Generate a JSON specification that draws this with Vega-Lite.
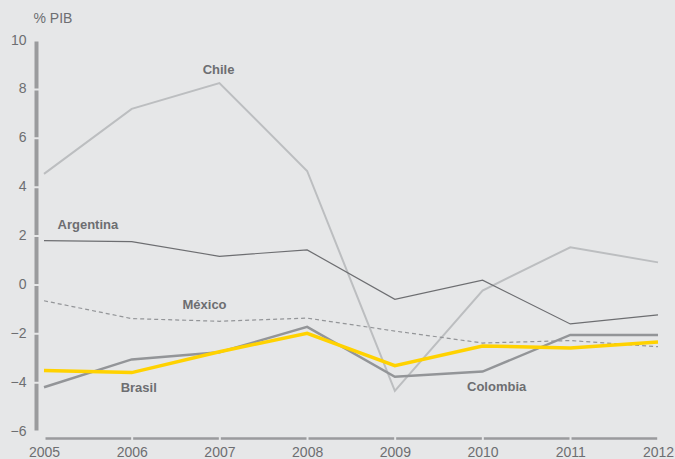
{
  "$schema": "https://vega.github.io/schema/vega-lite/v6.json",
  "width": 614,
  "height": 391,
  "autosize": {"type": "none"},
  "padding": {"left": 44, "top": 40, "right": 17, "bottom": 28},
  "background": "#e6e7e8",
  "config": {"view": {"stroke": null}, "font": "Liberation Sans"},
  "datasets": {
    "series": [
      {"pais": "Chile", "anio": 2005, "valor": 4.52},
      {"pais": "Chile", "anio": 2006, "valor": 7.18},
      {"pais": "Chile", "anio": 2007, "valor": 8.24},
      {"pais": "Chile", "anio": 2008, "valor": 4.64},
      {"pais": "Chile", "anio": 2009, "valor": -4.36},
      {"pais": "Chile", "anio": 2010, "valor": -0.25},
      {"pais": "Chile", "anio": 2011, "valor": 1.52},
      {"pais": "Chile", "anio": 2012, "valor": 0.9},
      {"pais": "Argentina", "anio": 2005, "valor": 1.79},
      {"pais": "Argentina", "anio": 2006, "valor": 1.75},
      {"pais": "Argentina", "anio": 2007, "valor": 1.15},
      {"pais": "Argentina", "anio": 2008, "valor": 1.41},
      {"pais": "Argentina", "anio": 2009, "valor": -0.61},
      {"pais": "Argentina", "anio": 2010, "valor": 0.17},
      {"pais": "Argentina", "anio": 2011, "valor": -1.62},
      {"pais": "Argentina", "anio": 2012, "valor": -1.25},
      {"pais": "México", "anio": 2005, "valor": -0.67},
      {"pais": "México", "anio": 2006, "valor": -1.4},
      {"pais": "México", "anio": 2007, "valor": -1.51},
      {"pais": "México", "anio": 2008, "valor": -1.38},
      {"pais": "México", "anio": 2009, "valor": -1.91},
      {"pais": "México", "anio": 2010, "valor": -2.4},
      {"pais": "México", "anio": 2011, "valor": -2.3},
      {"pais": "México", "anio": 2012, "valor": -2.55},
      {"pais": "Colombia", "anio": 2005, "valor": -4.21},
      {"pais": "Colombia", "anio": 2006, "valor": -3.07},
      {"pais": "Colombia", "anio": 2007, "valor": -2.78},
      {"pais": "Colombia", "anio": 2008, "valor": -1.74},
      {"pais": "Colombia", "anio": 2009, "valor": -3.78},
      {"pais": "Colombia", "anio": 2010, "valor": -3.57},
      {"pais": "Colombia", "anio": 2011, "valor": -2.07},
      {"pais": "Colombia", "anio": 2012, "valor": -2.07},
      {"pais": "Brasil", "anio": 2005, "valor": -3.52},
      {"pais": "Brasil", "anio": 2006, "valor": -3.61},
      {"pais": "Brasil", "anio": 2007, "valor": -2.76},
      {"pais": "Brasil", "anio": 2008, "valor": -2.0},
      {"pais": "Brasil", "anio": 2009, "valor": -3.33},
      {"pais": "Brasil", "anio": 2010, "valor": -2.52},
      {"pais": "Brasil", "anio": 2011, "valor": -2.6},
      {"pais": "Brasil", "anio": 2012, "valor": -2.36}
    ],
    "etiquetas": [
      {"texto": "Chile", "anio": 2006.99, "valor": 8.77},
      {"texto": "Argentina", "anio": 2005.5, "valor": 2.41},
      {"texto": "México", "anio": 2006.83, "valor": -0.84},
      {"texto": "Brasil", "anio": 2006.08, "valor": -4.22},
      {"texto": "Colombia", "anio": 2010.16, "valor": -4.18}
    ]
  },
  "encoding": {
    "x": {
      "field": "anio",
      "type": "quantitative",
      "scale": {"domain": [2005, 2012], "nice": false, "zero": false},
      "axis": {
        "title": null,
        "values": [2005, 2006, 2007, 2008, 2009, 2010, 2011, 2012],
        "format": "d",
        "grid": false,
        "ticks": false,
        "tickSize": 0,
        "domainColor": "#9a9b9d",
        "domainWidth": 2.5,
        "domainDash": [85.67, 2],
        "domainDashOffset": -1,
        "offset": 7,
        "labelFontSize": 14,
        "labelColor": "#6d6e71",
        "labelPadding": 7,
        "labelFlush": false,
        "labelOverlap": false,
        "labelBound": false
      }
    },
    "y": {
      "field": "valor",
      "type": "quantitative",
      "scale": {"domain": [-6, 10], "nice": false, "zero": false},
      "axis": {
        "title": "% PIB",
        "titleAngle": 0,
        "titleAlign": "left",
        "titleBaseline": "top",
        "titleX": -3,
        "titleY": -29,
        "titleFontSize": 14,
        "titleFontWeight": "normal",
        "titleColor": "#6d6e71",
        "values": [-6, -4, -2, 0, 2, 4, 6, 8, 10],
        "format": "d",
        "grid": false,
        "ticks": false,
        "tickSize": 0,
        "domainColor": "#9a9b9d",
        "domainWidth": 4,
        "domainDash": [46.875, 2],
        "domainDashOffset": -1,
        "offset": 8,
        "labelFontSize": 14,
        "labelColor": "#6d6e71",
        "labelPadding": 10,
        "labelFlush": false,
        "labelOverlap": false,
        "labelBound": false
      }
    }
  },
  "layer": [
    {
      "data": {"name": "series"},
      "transform": [{"filter": "datum.pais === 'Chile'"}],
      "mark": {"type": "line", "color": "#bcbec0", "strokeWidth": 2}
    },
    {
      "data": {"name": "series"},
      "transform": [{"filter": "datum.pais === 'Argentina'"}],
      "mark": {"type": "line", "color": "#6d6e71", "strokeWidth": 1.2}
    },
    {
      "data": {"name": "series"},
      "transform": [{"filter": "datum.pais === 'México'"}],
      "mark": {"type": "line", "color": "#939598", "strokeWidth": 1.2, "strokeDash": [4, 3]}
    },
    {
      "data": {"name": "series"},
      "transform": [{"filter": "datum.pais === 'Colombia'"}],
      "mark": {"type": "line", "color": "#939598", "strokeWidth": 2.5}
    },
    {
      "data": {"name": "series"},
      "transform": [{"filter": "datum.pais === 'Brasil'"}],
      "mark": {"type": "line", "color": "#ffd200", "strokeWidth": 3.5}
    },
    {
      "data": {"name": "etiquetas"},
      "mark": {"type": "text", "font": "Liberation Sans", "fontWeight": "bold", "fontSize": 13, "color": "#6d6e71", "align": "center", "baseline": "middle"},
      "encoding": {"text": {"field": "texto"}}
    }
  ]
}
